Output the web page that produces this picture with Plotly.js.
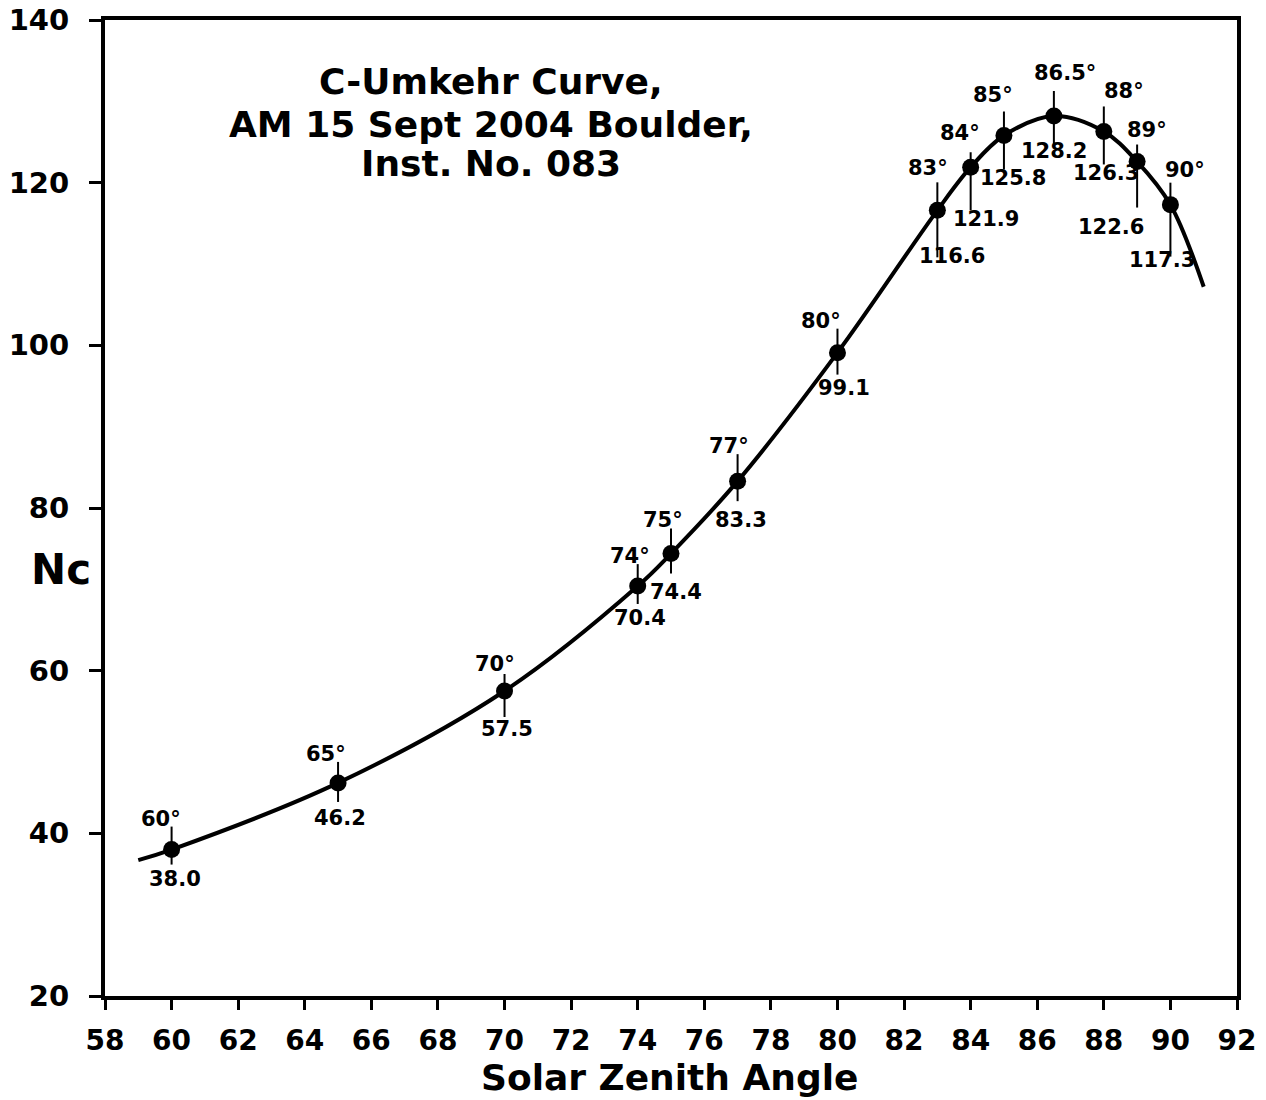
<!DOCTYPE html>
<html><head><meta charset="utf-8">
<script src="https://cdn.plot.ly/plotly-3.0.1.min.js"></script>
<style>html,body{margin:0;padding:0;background:#fff}</style>
</head><body><div id="chart" style="width:1266px;height:1100px"></div>
<script>
// ---- data ----
const zenithAngles = [60, 65, 70, 74, 75, 77, 80, 83, 84, 85, 86.5, 88, 89, 90];
const ncValues = [38.0, 46.2, 57.5, 70.4, 74.4, 83.3, 99.1, 116.6, 121.9, 125.8, 128.2, 126.3, 122.6, 117.3];
const angleLabels = ['60°','65°','70°','74°','75°','77°','80°','83°','84°','85°','86.5°','88°','89°','90°'];
const valueLabels = ['38.0','46.2','57.5','70.4','74.4','83.3','99.1','116.6','121.9','125.8','128.2','126.3','122.6','117.3'];
// vertical marker lines through each point (Nc units above / below)
const lineUp = [2.83, 2.58, 2.09, 2.7, 3.07, 3.32, 2.95, 3.44, 1.84, 2.95, 3.07, 3.07, 2.09, 2.7];
const lineDown = [1.84, 2.34, 3.2, 2.2, 2.46, 2.46, 2.7, 5.78, 5.29, 4.18, 3.44, 4.06, 5.66, 6.39];
// fitted curve
const curveX = [59, 60, 65, 70, 74, 75, 77, 80, 83, 84, 85, 86.5, 88, 89, 90, 91];
const curveY = [36.7, 38.0, 46.2, 57.5, 70.4, 74.4, 83.3, 99.1, 116.6, 121.9, 125.8, 128.2, 126.3, 122.6, 117.3, 107.2];
const xTickVals = [58,60,62,64,66,68,70,72,74,76,78,80,82,84,86,88,90,92];
const yTickVals = [20,40,60,80,100,120,140];
const titleLines = ['C-Umkehr Curve,', 'AM 15 Sept 2004 Boulder,', 'Inst. No. 083'];
const xTitle = 'Solar Zenith Angle';
const yTitle = 'Nc';

// ---- label offsets in pixels (style) ----
const angleDx = [-11, -12, -10, -8, -8, -9, -16, -9, -11, -11, 11, 20, 10, 15];
const angleDy = [-31, -29, -27, -30, -34, -35, -32, -42, -34, -40, -43, -40, -32, -35];
const valueDx = [3, 2, 2, 2, 5, 3, 7, 15, 15, 9, 0, 2, -26, -8];
const valueDy = [29, 35, 38, 32, 38, 39, 35, 46, 52, 43, 35, 42, 65, 55];

const FONT = 'DejaVu Sans';
const labelFont = {family: FONT, size: 21, color: '#000', weight: 'bold'};
const boldFont = (s) => ({family: FONT, size: s, color: '#000', weight: 'bold'});

const traces = [
  {x: curveX, y: curveY, mode: 'lines', type: 'scatter',
   line: {color: '#000', width: 4, shape: 'spline', smoothing: 1}, hoverinfo: 'skip'},
  {x: zenithAngles, y: ncValues, mode: 'markers', type: 'scatter',
   marker: {color: '#000', size: 17, symbol: 'circle'},
   error_y: {type: 'data', symmetric: false, array: lineUp, arrayminus: lineDown,
             color: '#000', thickness: 2, width: 0}}
];

const annotations = [];
zenithAngles.forEach((a, i) => {
  annotations.push({x: a, y: ncValues[i], xref: 'x', yref: 'y', text: angleLabels[i],
    showarrow: false, xshift: angleDx[i], yshift: -angleDy[i], font: labelFont});
  annotations.push({x: a, y: ncValues[i], xref: 'x', yref: 'y', text: valueLabels[i],
    showarrow: false, xshift: valueDx[i], yshift: -valueDy[i], font: labelFont});
});
const titleY = [0.9365, 0.8934, 0.8525];
titleLines.forEach((t, i) => annotations.push({x: 0.341, y: titleY[i], xref: 'paper', yref: 'paper',
  text: t, showarrow: false, font: boldFont(36), xanchor: 'center', yanchor: 'middle'}));
annotations.push({x: -0.039, y: 0.4365, xref: 'paper', yref: 'paper', text: yTitle,
  showarrow: false, font: boldFont(42), xanchor: 'center', yanchor: 'middle'});
annotations.push({x: 0.499, y: -0.084, xref: 'paper', yref: 'paper', text: xTitle,
  showarrow: false, font: boldFont(36), xanchor: 'center', yanchor: 'middle'});

const layout = {
  width: 1266, height: 1100,
  margin: {l: 105, r: 29, t: 20, b: 104, pad: 0},
  paper_bgcolor: '#fff', plot_bgcolor: '#fff',
  showlegend: false,
  xaxis: {range: [58, 92], tickvals: xTickVals, ticktext: xTickVals.map(String),
    showgrid: false, zeroline: false, showline: true, mirror: true, linecolor: '#000', linewidth: 4,
    ticks: 'outside', ticklen: 10, tickwidth: 3, tickcolor: '#000',
    tickfont: boldFont(28), ticklabelstandoff: 6},
  yaxis: {range: [20, 140], tickvals: yTickVals, ticktext: yTickVals.map(String),
    showgrid: false, zeroline: false, showline: true, mirror: true, linecolor: '#000', linewidth: 4,
    ticks: 'outside', ticklen: 12, tickwidth: 3, tickcolor: '#000',
    tickfont: boldFont(29), ticklabelstandoff: 14},
  annotations: annotations
};
Plotly.newPlot('chart', traces, layout, {displayModeBar: false, staticPlot: true});
</script></body></html>
